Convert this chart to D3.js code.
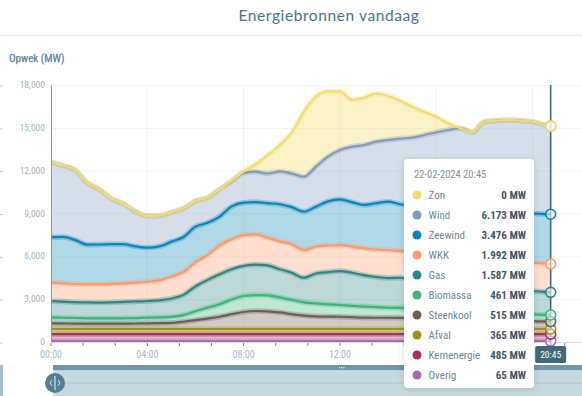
<!DOCTYPE html>
<html><head><meta charset="utf-8">
<script src="https://cdn.jsdelivr.net/npm/d3@7"></script>
<style>
html,body{margin:0;padding:0;background:#fff;overflow:hidden}
svg{display:block}
</style></head><body>
<svg id="chart" width="582" height="396"></svg>
<script>
// ---------- DATA ----------
const day = "2024-02-22";
const times = ["00:00","00:30","01:00","01:30","02:00","02:30","03:00","03:30","04:00","04:30",
  "05:00","05:30","06:00","06:30","07:00","07:30","08:00","08:30","09:00","09:30",
  "10:00","10:30","11:00","11:30","12:00","12:30","13:00","13:30","14:00","14:30",
  "15:00","15:30","16:00","16:30","17:00","17:30","18:00","18:30","19:00","19:30",
  "20:00","20:30","20:45"];
const seriesNames = ["Overig","Kernenergie","Afval","Steenkool","Biomassa","Gas","WKK","Zeewind","Wind","Zon"];
const seriesColors = ["#a86bb0","#a3305d","#9a9410","#6f5e55","#3bb57a","#2f8582","#fc9a6a","#0a85b5","#7f9cbb","#f5dc6e"];
const overig = [65,65,65,65,65,65,65,65,65,65,65,65,65,65,65,65,65,65,65,65,65,65,65,65,65,65,65,65,65,65,65,65,65,65,65,65,65,65,65,65,65,65,65];
const kernenergie = [485,485,485,485,485,485,485,485,485,485,485,485,485,485,485,485,485,485,485,485,485,485,485,485,485,485,485,485,485,485,485,485,485,485,485,485,485,485,485,485,485,485,485];
const afval = [360,360,360,360,360,360,360,360,360,360,360,360,360,360,360,360,360,360,360,360,360,360,360,360,360,360,360,360,360,360,360,360,360,360,360,360,360,360,360,360,360,360,365];
const steenkool = [400,390,380,375,370,370,375,385,400,410,430,510,620,730,860,1040,1190,1260,1240,1160,1040,940,890,870,860,830,800,790,790,780,760,740,710,690,670,650,630,610,590,570,550,530,515];
const biomassa = [410,400,390,375,370,370,375,375,390,400,420,460,620,760,870,1030,1120,1120,1120,1050,1000,930,900,860,820,790,770,740,700,700,690,670,660,630,600,560,530,500,480,470,470,460,461];
const gas = [1150,1130,1110,1110,1110,1130,1150,1170,1170,1200,1290,1420,1750,1950,2110,2120,2110,2130,2100,1980,1900,1720,2100,2260,2380,2320,2200,2120,2080,2110,2060,2010,1970,1930,1900,1860,1830,1780,1740,1690,1640,1610,1587];
const wkk = [1310,1270,1260,1270,1280,1280,1290,1310,1360,1400,1530,1600,1700,1730,2000,2100,2150,2120,1930,1950,2000,1950,1880,1860,1820,1830,1880,1920,1960,1880,1880,1890,1900,1920,1920,1940,1950,1980,1980,1980,1980,1990,1992];
const zeewind = [3150,3260,3100,2780,2790,2800,2750,2550,2380,2380,2450,2450,2480,2270,2030,2300,2280,2260,2420,2600,2600,2680,2800,3090,3200,3120,3040,3240,3390,3270,3250,3260,3250,3270,3300,3330,3350,3370,3400,3430,3450,3460,3476];
const wind = [5260,4990,4900,4330,3850,3190,2830,2450,2220,2150,2050,2000,1800,1750,1920,1750,2090,2130,2080,2300,2350,2450,2800,3130,3460,3880,4200,4310,4320,4600,4760,5020,5290,5500,5670,5440,6230,6350,6450,6450,6430,6240,6173];
const zon = [0,0,0,0,0,0,0,0,0,0,0,0,0,0,0,30,100,520,1300,1850,2900,4550,4900,4570,4100,3270,3310,3370,3100,2650,2170,1630,1090,470,0,0,0,0,0,0,0,0,0];
const seriesValues = [overig,kernenergie,afval,steenkool,biomassa,gas,wkk,zeewind,wind,zon];
const yTicks = [0,3000,6000,9000,12000,15000,18000];
const xTickHours = [0,4,8,12,16,20];
const tooltipDate = "22-02-2024 20:45";
const cursorTime = "20:45";

// ---------- CHART ----------
const svg = d3.select("#chart");
const parse = d3.timeParse("%Y-%m-%d %H:%M");
const dates = times.map(t => parse(day + " " + t));
const t0 = parse(day + " 00:00");
const x = d3.scaleTime().domain([t0, d3.timeHour.offset(t0, 24)]).range([51, 51 + 24 * 24.08]);
const y = d3.scaleLinear().domain([0, 18000]).range([342, 85]);
const fmt = d3.format(",");
const cond = '"Roboto Condensed","DejaVu Sans Condensed",sans-serif';

const defs = svg.append("defs");
defs.append("clipPath").attr("id","plotclip").append("rect").attr("x",51).attr("y",70).attr("width",531).attr("height",272.5);
const f = defs.append("filter").attr("id","shadow").attr("x","-20%").attr("y","-20%").attr("width","140%").attr("height","140%");
f.append("feDropShadow").attr("dx",0).attr("dy",1).attr("stdDeviation",3).attr("flood-color","#3a5566").attr("flood-opacity",0.22);

// title
svg.append("text").attr("x",329).attr("y",21).attr("text-anchor","middle")
  .style("font-family","Lato, 'Open Sans', sans-serif").style("font-size","15.5px").style("letter-spacing","0.6px")
  .attr("fill","#4b7389").text("Energiebronnen vandaag");
svg.append("line").attr("x1",0).attr("x2",582).attr("y1",35.5).attr("y2",35.5).attr("stroke","#eef2f4").attr("stroke-width",1.5);
svg.append("text").attr("x",9).attr("y",61.5).style("font-family",cond).style("font-size","11px")
  .attr("fill","#5f8497").attr("stroke","#5f8497").attr("stroke-width",0.25).text("Opwek (MW)");

// grid
svg.append("g").selectAll("line").data(yTicks.slice(1)).join("line")
  .attr("x1",51).attr("x2",582).attr("y1",d=>y(d)+0.5).attr("y2",d=>y(d)+0.5).attr("stroke","#f0f3f5");
svg.append("g").selectAll("line").data(xTickHours.slice(1)).join("line")
  .attr("x1",d=>x(d3.timeHour.offset(t0,d))).attr("x2",d=>x(d3.timeHour.offset(t0,d)))
  .attr("y1",85).attr("y2",342).attr("stroke","#eef2f5");
svg.append("g").selectAll("line").data(yTicks).join("line")
  .attr("x1",0).attr("x2",2.5).attr("y1",d=>y(d)+1).attr("y2",d=>y(d)+1).attr("stroke","#b8c6ce");

// stack
const rows = dates.map((d,i) => { const r = {date:d}; seriesNames.forEach((k,j)=> r[k] = seriesValues[j][i]); return r; });
const stacked = d3.stack().keys(seriesNames)(rows);
const area = d3.area().x(d=>x(d.data.date)).y0(d=>y(d[0])).y1(d=>y(d[1])).curve(d3.curveMonotoneX);
const line = d3.line().x(d=>x(d.data.date)).y(d=>y(d[1])).curve(d3.curveMonotoneX);
const plot = svg.append("g").attr("clip-path","url(#plotclip)");
plot.selectAll("path.area").data(stacked).join("path").attr("class","area")
  .attr("d",area).attr("fill",(d,i)=>seriesColors[i]).attr("fill-opacity",(d,i)=> i===9 ? 0.38 : 0.32);
plot.selectAll("path.halo").data(stacked).join("path").attr("class","halo")
  .attr("d",line).attr("fill","none").attr("stroke",(d,i)=>seriesColors[i]).attr("stroke-width",5.5).attr("stroke-opacity",0.3);
plot.selectAll("path.ln").data(stacked).join("path").attr("class","ln")
  .attr("d",line).attr("fill","none").attr("stroke",(d,i)=>seriesColors[i]).attr("stroke-width",2.2).attr("stroke-linejoin","round");

// y axis
svg.append("line").attr("x1",51.5).attr("x2",51.5).attr("y1",85).attr("y2",342).attr("stroke","#7e98a6");
svg.append("g").selectAll("text").data(yTicks).join("text")
  .attr("x",45).attr("y",d=>y(d)+3).attr("text-anchor","end")
  .style("font-family",cond).style("font-size","9.5px").attr("fill","#9fb3bf").text(d=>fmt(d));

// x axis
svg.append("line").attr("x1",51).attr("x2",582).attr("y1",342.5).attr("y2",342.5).attr("stroke","#d3dde2");
const minorTicks = d3.range(0, 24*60, 80).map(m => d3.timeMinute.offset(t0, m));
svg.append("g").selectAll("line").data(minorTicks).join("line")
  .attr("x1",d=>x(d)).attr("x2",d=>x(d)).attr("y1",343).attr("y2",346).attr("stroke","#6f7f88");
// labels under the tooltip (16:00, 20:00) are hidden in the reference
svg.append("g").selectAll("text").data(xTickHours.filter(h => x(d3.timeHour.offset(t0,h)) < 400)).join("text")
  .attr("x",d=>x(d3.timeHour.offset(t0,d))).attr("y",357.5).attr("text-anchor","middle")
  .style("font-family",cond).style("font-size","10px").attr("fill","#a7b9c4")
  .text(d=>d3.timeFormat("%H:%M")(d3.timeHour.offset(t0,d)));

// navigator
svg.append("rect").attr("x",0).attr("y",365).attr("width",3).attr("height",31).attr("fill","#aabdc6");
svg.append("rect").attr("x",53).attr("y",365).attr("width",529).attr("height",5.5).attr("fill","#6d94a7");
svg.append("rect").attr("x",53).attr("y",370.5).attr("width",529).attr("height",25.5).attr("fill","#c7d8de");
svg.append("line").attr("x1",53).attr("x2",582).attr("y1",383).attr("y2",383).attr("stroke","#afc4cd");
svg.append("g").selectAll("circle").data([0,1,2]).join("circle")
  .attr("cx",d=>339.5+d*2.2).attr("cy",367.7).attr("r",0.8).attr("fill","#e8f0f3");
svg.append("circle").attr("cx",55).attr("cy",383).attr("r",10).attr("fill","#527f93");
svg.append("line").attr("x1",55).attr("x2",55).attr("y1",376).attr("y2",390).attr("stroke","#d4e3e9").attr("stroke-width",1.2);
svg.append("path").attr("d","M52,380 L50,383 L52,386 M58,380 L60,383 L58,386").attr("fill","none").attr("stroke","#d4e3e9").attr("stroke-width",1);

// cursor
const last = rows.length - 1;
const cx = x(dates[last]);
svg.append("line").attr("x1",cx).attr("x2",cx).attr("y1",85).attr("y2",346).attr("stroke","#3e6a7d").attr("stroke-width",1.6);
svg.append("g").selectAll("circle").data(stacked).join("circle")
  .attr("cx",cx).attr("cy",d=>y(d[last][1])).attr("r",5)
  .attr("fill","#ffffff").attr("fill-opacity",0.55).attr("stroke",(d,i)=>seriesColors[i]).attr("stroke-width",1.6);
svg.append("rect").attr("x",cx-15.5).attr("y",346).attr("width",31).attr("height",17).attr("rx",2).attr("fill","#3e6a7d");
svg.append("text").attr("x",cx).attr("y",358).attr("text-anchor","middle").style("font-family",cond).style("font-size","9.5px")
  .attr("fill","#ffffff").text(cursorTime);

// tooltip
const tt = svg.append("g");
tt.append("rect").attr("x",404).attr("y",159).attr("width",130).attr("height",229).attr("rx",4).attr("fill","#fff").attr("filter","url(#shadow)");
tt.append("text").attr("x",414).attr("y",178).style("font-family",cond).style("font-size","10.5px").attr("fill","#7e919d").text(tooltipDate);
const order = seriesNames.map((n,i)=>i).reverse();
const rowsG = tt.selectAll("g.row").data(order).join("g").attr("class","row")
  .attr("transform",(d,k)=>`translate(0,${195 + k*20})`);
rowsG.append("circle").attr("cx",417).attr("cy",0).attr("r",4.5).attr("fill",d=>seriesColors[d]);
rowsG.append("text").attr("x",428.5).attr("y",4).style("font-family",cond).style("font-size","11px").attr("fill","#6f8797").text(d=>seriesNames[d]);
rowsG.append("text").attr("x",526).attr("y",4).attr("text-anchor","end").style("font-family",cond).style("font-size","11px").style("font-weight","bold")
  .attr("fill","#3f566a").text(d=>d3.format(",")(seriesValues[d][last]).replace(/,/g,".") + " MW");
</script>
</body></html>
